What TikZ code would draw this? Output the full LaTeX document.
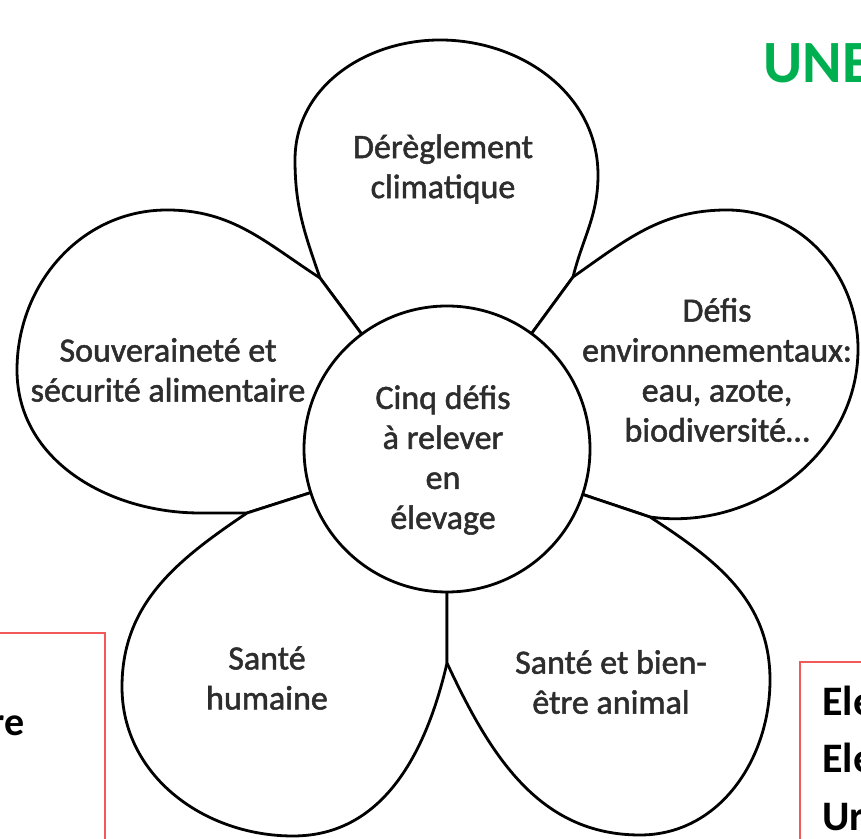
\documentclass[tikz,border=0pt]{standalone}
\usepackage{fontspec}
\setmainfont{Carlito}
\newfontfamily\petalfont[FakeBold=1.5]{Carlito}
\definecolor{petaltext}{RGB}{45,45,45}
\definecolor{boxred}{RGB}{242,90,90}
\definecolor{unegreen}{RGB}{0,176,80}
\begin{document}
\begin{tikzpicture}[x=0.5pt,y=0.5pt,
  petal/.style={draw=black,line width=1.4pt,fill=white,line join=round},
  ptext/.style={font=\petalfont\fontsize{17}{20}\selectfont,text=petaltext,align=center,inner sep=0pt},
  boxline/.style={draw=boxred,line width=1pt},
  boxtext/.style={font=\bfseries\fontsize{21}{21}\selectfont,text=black,anchor=base west,inner sep=0pt}]
\useasboundingbox (0,0) rectangle (861,839);
\clip (0,0) rectangle (861,839);
\fill[white] (0,0) rectangle (861,839);
% key points
\coordinate (C) at (447,390);
\coordinate (P1) at (320,561);
\coordinate (P2) at (573,562);
\coordinate (P3) at (650,322);
\coordinate (P4) at (447,176);
\coordinate (P5) at (247,326);
% petals
\draw[petal] (C) -- (P1) to[out=109,in=270] (295,679) to[out=90,in=180] (440,799)
  to[out=0,in=90] (598,664) to[out=270,in=76] (P2) -- cycle;
\draw[petal] (C) -- (P2) to[out=35,in=180] (727,629) to[out=0,in=90] (858,490)
  to[out=270,in=-8] (P3) -- cycle;
\draw[petal] (C) -- (P1) to[out=147,in=0] (167,629) to[out=180,in=90] (17,469)
  to[out=270,in=180] (200,326) -- (P5) -- cycle;
\draw[petal] (C) -- (P5) to[out=214,in=90] (122,152) to[out=270,in=180] (293,3)
  to[out=0,in=257] (P4) -- cycle;
\draw[petal] (C) -- (P4) to[out=295,in=180] (640,4) to[out=0,in=270] (770,159)
  to[out=90,in=-33] (P3) -- cycle;
% centre
\node[circle,draw=black,line width=1.4pt,fill=white,minimum size=143pt,inner sep=0pt] (centre) at (C) {};
\node[ptext] (ctext) at (443,379) {Cinq défis\\à relever\\en\\élevage};
% petal texts
\node[ptext] (t1) at (443,670) {Dérèglement\\climatique};
\node[ptext] (t2) at (717,469) {Défis\\environnementaux:\\eau, azote,\\biodiversité…};
\node[ptext] (t3) at (168,469) {Souveraineté et\\sécurité alimentaire};
\node[ptext] (t4) at (267,161) {Santé\\humaine};
\node[ptext] (t5) at (611,157) {Santé et bien-\\être animal};
% side boxes
\draw[boxline] (-5,206) -- (105,206) -- (105,-5);
\draw[boxline] (800,-5) -- (800,177) -- (870,177);
\node[font=\bfseries\fontsize{20}{20}\selectfont,anchor=base east,inner sep=0pt] (re) at (25,103) {re};
\node[boxtext] (e1) at (822,123) {Ele};
\node[boxtext] (e2) at (822,66) {Ele};
\node[boxtext] (e3) at (822,8) {Ur};
\node[font=\bfseries\fontsize{30}{30}\selectfont,text=unegreen,anchor=base west,inner sep=0pt] (une) at (763,756) {UNE};
\end{tikzpicture}
\end{document}
